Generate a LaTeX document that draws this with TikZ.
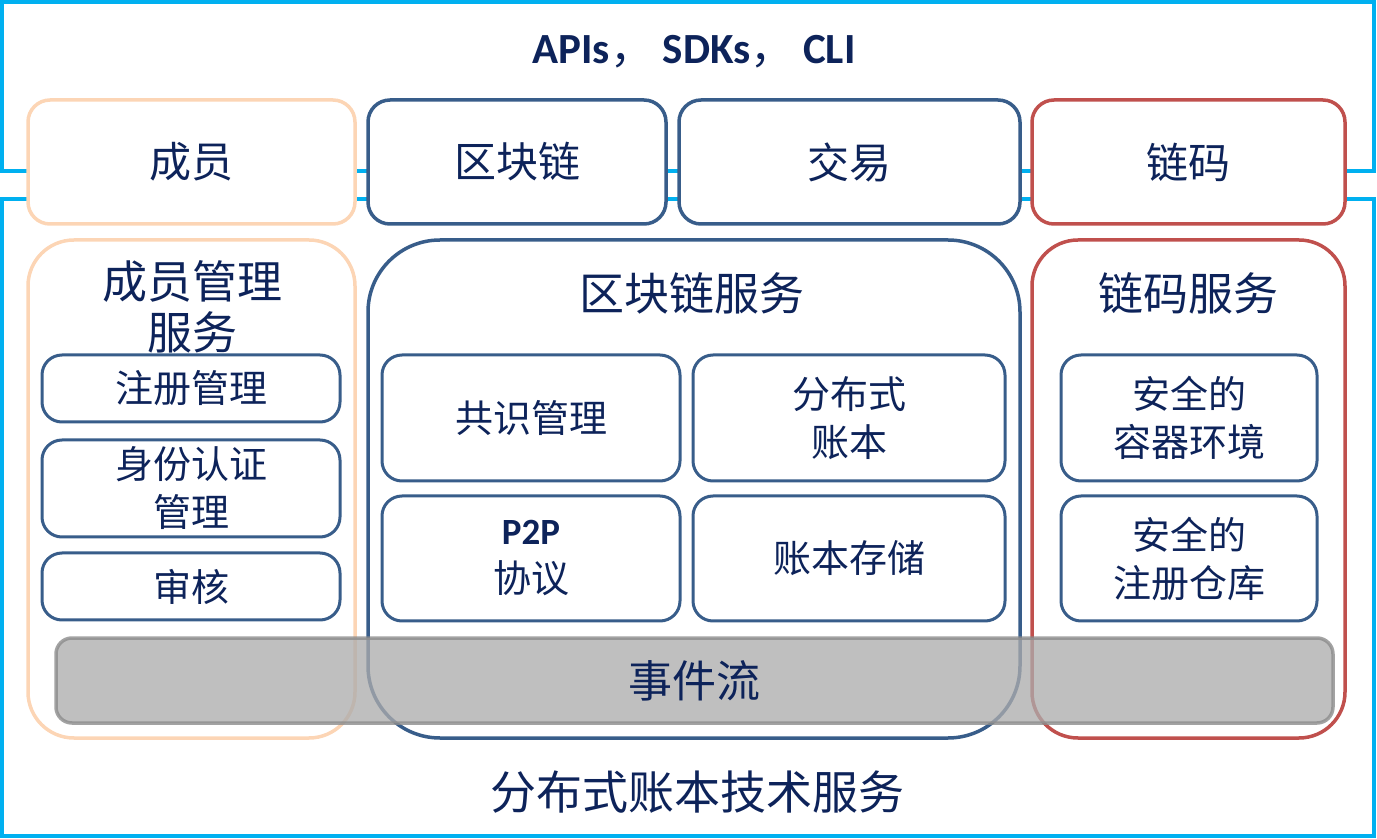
\documentclass[tikz,border=0pt]{standalone}
\usepackage{fontspec}
\setmainfont{Noto Sans CJK SC}
\newfontfamily\latfont{Carlito}
\usetikzlibrary{positioning}
\definecolor{framecyan}{RGB}{0,176,240}
\definecolor{boxblue}{RGB}{56,93,138}
\definecolor{peach}{RGB}{252,213,181}
\definecolor{chainred}{RGB}{192,80,77}
\definecolor{inknavy}{RGB}{13,35,90}
\definecolor{barfill}{RGB}{172,172,172}
\definecolor{barline}{RGB}{140,140,140}
\tikzstyle{frame} = [draw=framecyan, line width=2pt]

\begin{document}
\begin{tikzpicture}[x=0.5pt, y=-0.5pt,
        every node/.style={text=inknavy, inner sep=0pt, outer sep=0pt},
        layer/.style={draw, fill=white, rounded corners=11pt, line width=1.75pt,
            minimum height=62pt, font=\fontsize{21}{25}\selectfont},
        service/.style={draw, rounded corners=23pt, line width=1.75pt, minimum height=249pt},
        part/.style={draw=boxblue, fill=white, rounded corners=10pt, line width=1.5pt,
            align=center, font=\fontsize{19}{24}\selectfont},
        title/.style={align=center, font=\fontsize{22.5}{25.5}\selectfont}]
        \useasboundingbox (0,0) rectangle (1377,839);
        %% Outer frame
        \draw [frame] (2,2) rectangle (1374,171);
        \draw [frame] (2,199) rectangle (1374,836);
        \node [font=\fontsize{21.5}{25}\selectfont] at (694,52) (api)
            {{\latfont\bfseries APIs}， {\latfont\bfseries SDKs}， {\latfont\bfseries CLI}};
        %% Top layer
        \node [layer, draw=peach, minimum width=163.5pt] at (191.5,162) (members) {成员};
        \node [layer, draw=boxblue, minimum width=149pt] at (517,162) (chain) {区块链};
        \node [layer, draw=boxblue, minimum width=170.5pt] at (849.5,162) (trans) {交易};
        \node [layer, draw=chainred, minimum width=156.5pt] at (1188.5,162) (code) {链码};
        %% Services
        \node [service, draw=peach, minimum width=163.5pt] at (191.5,489) (membersrv) {};
        \node [service, draw=boxblue, rounded corners=36pt, minimum width=326pt] at (694,489) (chainsrv) {};
        \node [service, draw=chainred, minimum width=156.5pt] at (1188.5,489) (codesrv) {};
        \node [title] at (192,307) (membertitle) {成员管理\\服务};
        \node [title] at (692,293) (chaintitle) {区块链服务};
        \node [title] at (1188,293) (codetitle) {链码服务};
        %% Member parts
        \node [part, minimum width=149pt, minimum height=33.5pt] at (191,388.5) (register) {注册管理};
        \node [part, minimum width=149pt, minimum height=48.5pt] at (191,488.5) (identity) {身份认证\\管理};
        \node [part, minimum width=149pt, minimum height=33.5pt] at (191,586.5) (audit) {审核};
        %% Blockchain parts
        \node [part, minimum width=149pt, minimum height=63pt] at (531,418) (consensus) {共识管理};
        \node [part, minimum width=156pt, minimum height=63pt] at (849,418) (ledger) {分布式\\账本};
        \node [part, minimum width=149pt, minimum height=62.5pt] at (531,558.5) (ptp)
            {{\latfont\bfseries\fontsize{18.5}{22}\selectfont P2P}\\协议};
        \node [part, minimum width=156pt, minimum height=62.5pt] at (849,558.5) (store) {账本存储};
        %% Chaincode parts
        \node [part, minimum width=128pt, minimum height=63pt] at (1189,418) (container) {安全的\\容器环境};
        \node [part, minimum width=128pt, minimum height=62.5pt] at (1189,558.5) (registry) {安全的\\注册仓库};
        %% Event stream
        \node [draw=barline, fill=barfill, fill opacity=0.77, draw opacity=0.8, text opacity=1,
            rounded corners=8pt, line width=1.75pt, minimum width=638.5pt, minimum height=42.5pt,
            font=\fontsize{22}{25}\selectfont] at (694.5,680.5) (events) {事件流};
        \node [font=\fontsize{23}{26}\selectfont] at (697,792) (dlt) {分布式账本技术服务};
    \end{tikzpicture}
\end{document}
